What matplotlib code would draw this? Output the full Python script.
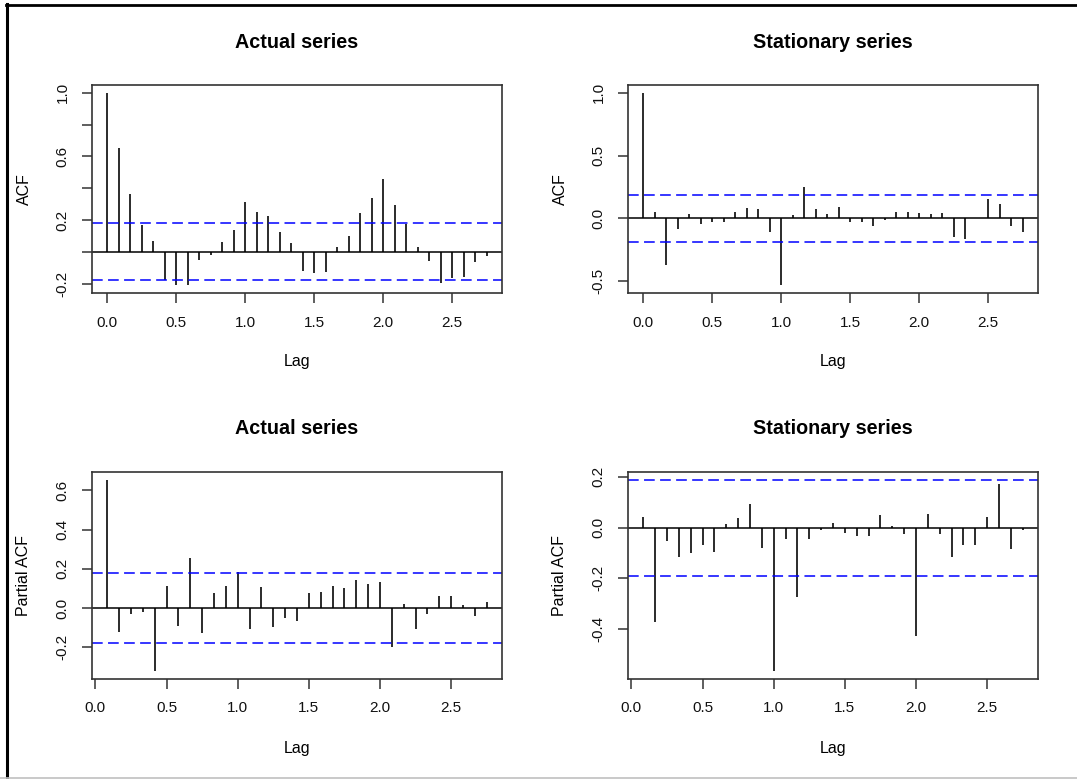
import numpy as np
import matplotlib
matplotlib.use("Agg")
import matplotlib.pyplot as plt
from matplotlib.lines import Line2D

# ============================================================
# DATA (monthly series, lags in years)
# ============================================================

acf_actual = [1.0, 0.653, 0.362, 0.166, 0.067, -0.175, -0.21, -0.21, -0.048, -0.017,
              0.059, 0.135, 0.314, 0.253, 0.223, 0.122, 0.053, -0.118, -0.133, -0.124,
              0.029, 0.099, 0.244, 0.339, 0.455, 0.293, 0.177, 0.029, -0.057, -0.196,
              -0.162, -0.158, -0.065, -0.025]

acf_stationary = [1.0, 0.053, -0.368, -0.085, 0.035, -0.045, -0.027, -0.027, 0.053, 0.085,
                  0.075, -0.112, -0.533, 0.024, 0.251, 0.075, 0.035, 0.093, -0.027, -0.027,
                  -0.061, -0.013, 0.053, 0.053, 0.043, 0.035, 0.043, -0.147, -0.168, 0.003,
                  0.152, 0.112, -0.061, -0.112]

pacf_actual = [0.654, -0.122, -0.029, -0.019, -0.322, 0.114, -0.092, 0.256, -0.129, 0.075,
               0.114, 0.186, -0.105, 0.107, -0.098, -0.049, -0.068, 0.075, 0.081, 0.114,
               0.1, 0.144, 0.125, 0.132, -0.198, 0.02, -0.105, -0.029, 0.064, 0.064,
               0.014, -0.042, 0.032]

pacf_stationary = [0.043, -0.37, -0.052, -0.115, -0.099, -0.067, -0.097, 0.014, 0.038, 0.093,
                   -0.082, -0.566, -0.044, -0.273, -0.044, -0.009, 0.02, -0.02, -0.034, -0.034,
                   0.048, 0.005, -0.025, -0.426, 0.054, -0.025, -0.115, -0.067, -0.067, 0.043,
                   0.173, -0.085, -0.009]

ci_actual = 0.179
ci_stationary = 0.189

acf_lags = np.arange(len(acf_actual)) / 12
pacf_lags = np.arange(1, len(pacf_actual) + 1) / 12

x_ticks = [0.0, 0.5, 1.0, 1.5, 2.0, 2.5]

# ============================================================
# FIGURE
# ============================================================

W, H = 1077, 779
plt.rcParams['font.family'] = ['Liberation Sans', 'DejaVu Sans']
fig = plt.figure(figsize=(W / 100, H / 100), dpi=100)


def px_axes(left, top, right, bottom):
    return fig.add_axes([left / W, 1 - bottom / H, (right - left) / W, (bottom - top) / H])


panels = [
    # values, lags, ci, box (px), title, ylabel, yticks, ylabels
    (acf_actual, acf_lags, ci_actual, (92, 85, 502, 293), 'Actual series', 'ACF',
     [-0.2, 0.0, 0.2, 0.4, 0.6, 0.8, 1.0], ['-0.2', '', '0.2', '', '0.6', '', '1.0']),
    (acf_stationary, acf_lags, ci_stationary, (628, 85, 1038, 293), 'Stationary series', 'ACF',
     [-0.5, 0.0, 0.5, 1.0], ['-0.5', '0.0', '0.5', '1.0']),
    (pacf_actual, pacf_lags, ci_actual, (92, 472, 502, 679), 'Actual series', 'Partial ACF',
     [-0.2, 0.0, 0.2, 0.4, 0.6], ['-0.2', '0.0', '0.2', '0.4', '0.6']),
    (pacf_stationary, pacf_lags, ci_stationary, (628, 472, 1038, 679), 'Stationary series', 'Partial ACF',
     [-0.4, -0.2, 0.0, 0.2], ['-0.4', '-0.2', '0.0', '0.2']),
]

for vals, lags, ci, box, title, ylabel, yticks, ylabels in panels:

    left, top, right, bottom = box
    ax = px_axes(left, top, right, bottom)

    vals = np.asarray(vals)

    # R style limits: data range plus 4%
    x0, x1 = lags.min(), lags.max()
    dx = (x1 - x0) * 0.04
    ax.set_xlim(x0 - dx, x1 + dx)
    y0 = min(vals.min(), -ci)
    y1 = max(vals.max(), ci)
    dy = (y1 - y0) * 0.04
    ax.set_ylim(y0 - dy, y1 + dy)

    ax.vlines(lags, 0, vals, color='#1a1a1a', linewidth=1.3)
    ax.axhline(0, color='black', linewidth=1.1)
    for c in (ci, -ci):
        ax.axhline(c, color='#0000FF', linewidth=1.1, linestyle=(0, (7, 3.5)))

    ax.set_xticks(x_ticks)
    ax.set_xticklabels([f'{t:.1f}' for t in x_ticks])
    ax.set_yticks(yticks)
    ax.set_yticklabels(ylabels)

    for s in ax.spines.values():
        s.set_linewidth(1.2)
        s.set_color('#333333')

    ax.tick_params(direction='out', length=7.2, width=1.1, color='#333333',
                   labelsize=11, pad=9, labelcolor='#111111')
    plt.setp(ax.get_yticklabels(), rotation=90, va='center', ha='right')

    cx = (left + right) / 2
    fig.text(cx / W, 1 - (top - 43) / H, title, ha='center', va='center',
             fontsize=14.2, fontweight='bold')
    fig.text(cx / W, 1 - (bottom + 69) / H, 'Lag', ha='center', va='center', fontsize=11.5)
    fig.text((left - 68) / W, 1 - ((top + bottom) / 2) / H, ylabel, ha='center', va='center',
             rotation=90, fontsize=11.5)

# ============================================================
# SCREENSHOT FRAME
# ============================================================

fig.add_artist(Line2D([6.5 / W, 6.5 / W], [0, 1 - 4 / H], transform=fig.transFigure,
                      color='black', linewidth=2.2))
fig.add_artist(Line2D([5.5 / W, 1], [1 - 5 / H, 1 - 5 / H], transform=fig.transFigure,
                      color='black', linewidth=2.0))
fig.add_artist(Line2D([0, 1], [1 - 777.5 / H, 1 - 777.5 / H], transform=fig.transFigure,
                      color='#c0c0c0', linewidth=1.2))

fig.savefig('out.png', dpi=100)
